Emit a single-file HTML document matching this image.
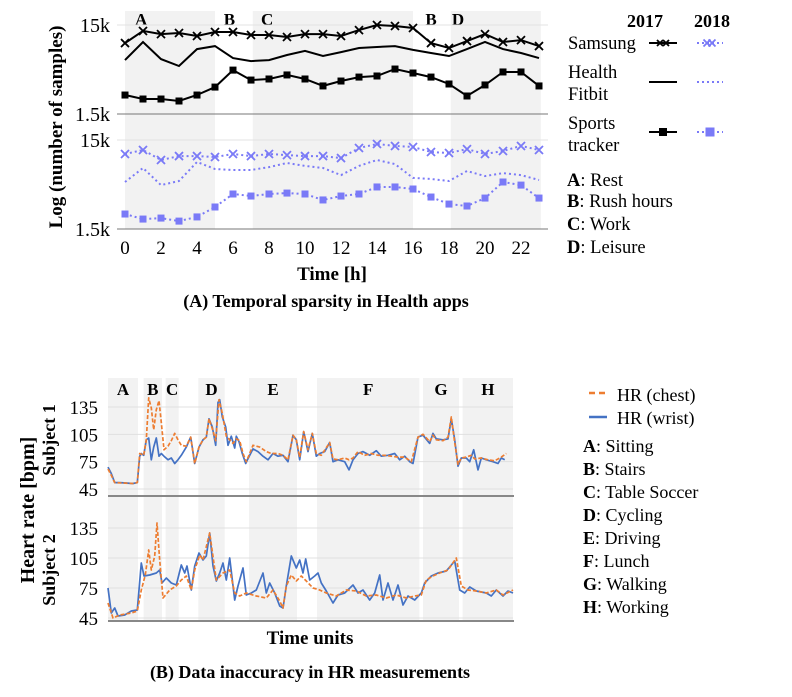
<!DOCTYPE html>
<html><head><meta charset="utf-8">
<style>
body{margin:0;background:#fff;}
svg{display:block;font-family:"Liberation Serif",serif;}
</style></head>
<body>
<svg id="chart" width="792" height="697" viewBox="0 0 792 697" xmlns="http://www.w3.org/2000/svg" font-family="Liberation Serif, serif">
<g id="topChart"></g>
<g id="botChart"></g>
</svg>
<script>
// ---------- Top chart data ----------
const hours = [0,1,2,3,4,5,6,7,8,9,10,11,12,13,14,15,16,17,18,19,20,21,22,23];
const xTickLabels = ["0","2","4","6","8","10","12","14","16","18","20","22"];
const yTickLabels = ["15k","1.5k"];
const samsung2017 = [9400,12860,11860,12200,11280,12510,12500,11580,11580,11000,11860,11860,11280,13150,15000,14600,13880,9400,8270,9900,11860,9650,10150,8700];
const fitbit2017 = [6050,9650,6210,5190,8050,8700,6370,5900,6050,6900,7680,6720,7450,8270,8480,8700,7870,7260,6720,8050,9650,8050,7260,6370];
const sports2017 = [2450,2210,2210,2100,2450,3010,4670,3610,3710,4120,3710,3100,3520,3900,4010,4800,4330,3900,3260,2390,3180,4450,4450,3100];
const samsung2018 = [10430,11580,8930,9900,9900,9650,10430,9900,10430,10150,9900,9900,9400,12200,13520,12860,12510,11000,10720,11860,10430,11280,12860,11580];
const fitbit2018 = [5060,7260,4670,5190,8480,7080,6900,6900,7450,8270,7680,7260,6050,7680,8930,8050,5620,5470,5190,6720,5900,6370,6050,5330];
const sports2018 = [2210,1940,1990,1840,2050,2650,3710,3520,3710,3800,3710,3180,3520,3710,4450,4450,4220,3430,2860,2720,3340,5060,4670,3340];
const topBands = [[0,5,"A"],[7.1,16,"C"],[18.1,23.1,"D"]];
const topBandLabels = [["A",0.9],["B",5.8],["C",7.9],["B",17],["D",18.5]];

// ---------- Bottom chart data: [time unit, bpm] ----------
const wrist1 = [[0,69],[10,62],[20,52],[35,52],[75,51],[88,52],[95,81],[100,84],[107,82],[115,99],[122,101],[130,77],[137,91],[145,101],[153,81],[160,84],[168,81],[180,77],[190,79],[200,73],[210,77],[220,82],[235,91],[248,102],[260,73],[273,91],[285,99],[295,102],[303,122],[313,113],[323,93],[330,140],[335,143],[343,124],[353,113],[360,93],[370,103],[380,90],[385,103],[393,97],[403,84],[413,73],[425,82],[435,89],[450,86],[465,81],[480,77],[495,84],[510,81],[525,82],[540,75],[555,104],[565,99],[575,77],[587,108],[600,86],[613,106],[625,81],[635,84],[650,86],[665,96],[675,75],[690,77],[710,75],[723,66],[735,77],[750,84],[765,86],[785,82],[805,87],[820,81],[840,82],[860,84],[875,77],[890,81],[905,75],[915,73],[930,102],[945,104],[965,95],[975,106],[985,100],[1005,99],[1020,100],[1030,122],[1040,99],[1050,70],[1060,79],[1075,79],[1085,75],[1097,88],[1110,66],[1120,79],[1135,77],[1155,75],[1170,73],[1180,79],[1190,77]];
const chest1 = [[0,67],[10,60],[20,52],[75,51],[88,52],[95,84],[107,82],[115,99],[122,145],[130,134],[137,110],[145,132],[153,142],[160,118],[168,88],[180,92],[190,98],[200,106],[210,99],[220,93],[235,92],[248,102],[260,73],[273,91],[285,99],[295,102],[303,122],[315,109],[323,98],[333,143],[343,128],[355,103],[365,99],[375,95],[385,100],[395,98],[405,84],[415,75],[435,93],[455,91],[475,86],[490,84],[510,84],[525,82],[540,77],[555,104],[565,99],[575,80],[587,108],[600,88],[613,106],[625,84],[640,82],[665,96],[675,78],[690,77],[710,79],[723,77],[735,79],[750,86],[770,82],[790,84],[810,82],[830,82],[850,81],[870,80],[890,80],[910,75],[930,102],[945,105],[965,97],[975,104],[985,99],[1005,98],[1020,102],[1030,124],[1040,96],[1050,72],[1060,79],[1075,80],[1090,82],[1100,78],[1120,79],[1140,77],[1160,76],[1180,80],[1195,84]];
const wrist2 = [[0,75],[10,50],[20,55],[30,47],[50,48],[70,52],[88,53],[100,100],[108,87],[125,88],[145,90],[155,93],[162,80],[175,85],[190,80],[205,78],[220,98],[230,90],[237,97],[250,73],[260,97],[273,110],[285,103],[295,107],[305,130],[315,97],[325,82],[335,90],[345,100],[355,83],[365,105],[380,63],[390,77],[405,95],[415,68],[430,70],[445,73],[465,90],[475,70],[485,80],[500,70],[515,57],[525,55],[535,77],[550,107],[565,95],[575,103],[585,90],[593,104],[605,83],[620,87],[630,90],[640,80],[655,72],[675,60],[690,68],[710,70],[735,78],[750,70],[765,73],[785,63],[800,70],[815,88],[825,63],[840,80],[855,63],[870,78],[885,58],[900,67],[920,63],[940,70],[950,80],[970,87],[990,90],[1015,92],[1040,102],[1055,73],[1070,70],[1085,76],[1105,72],[1135,70],[1150,67],[1165,73],[1185,67],[1200,72],[1215,70]];
const chest2 = [[0,60],[15,45],[35,48],[70,50],[88,52],[100,73],[112,88],[122,113],[130,93],[140,107],[147,140],[155,103],[165,65],[185,73],[205,77],[220,83],[235,87],[250,73],[260,93],[275,108],[285,103],[305,130],[325,83],[345,90],[365,93],[380,70],[395,67],[415,70],[445,67],[475,65],[495,73],[515,62],[525,55],[535,77],[550,88],[565,82],[580,87],[595,82],[615,75],[635,73],[655,70],[685,67],[715,73],[745,72],[775,67],[805,68],[835,65],[865,68],[895,65],[920,67],[940,68],[955,83],[975,87],[995,90],[1020,93],[1045,105],[1060,77],[1080,73],[1105,72],[1135,70],[1165,73],[1185,68],[1215,73]];
const hrTicks = [135,105,75,45];
const botBands = [[0,90,"A"],[107,162,"B"],[173,212,"C"],[271,350,"D"],[423,567,"E"],[627,934,"F"],[945,1053,"G"],[1064,1215,"H"]];

const NS="http://www.w3.org/2000/svg";
function mk(parent,tag,attrs,text){const e=document.createElementNS(NS,tag);for(const k in attrs)e.setAttribute(k,attrs[k]);if(text!==undefined)e.textContent=text;parent.appendChild(e);return e;}

// ---------- Top chart ----------
const topG=document.getElementById('topChart');
const tx=h=>125+18*h;
const ty1=v=>25+(Math.log10(15000)-Math.log10(v))*89;
const ty2=v=>140+(Math.log10(15000)-Math.log10(v))*89;
for(const b of topBands){
  const r=mk(topG,'rect',{x:tx(b[0]),y:11,width:tx(b[1])-tx(b[0]),height:218,fill:'#f2f2f2'});
  
  
}
for(const l of topBandLabels){
  const t=mk(topG,'text',{x:tx(l[1]),y:25,'font-size':17,'font-weight':'bold','text-anchor':'middle'},l[0]);
  
  
}
mk(topG,'line',{x1:117,x2:548,y1:25,y2:25,stroke:'#e3e3e3'});
mk(topG,'line',{x1:117,x2:548,y1:140,y2:140,stroke:'#e3e3e3'});
mk(topG,'line',{x1:117,x2:548,y1:114,y2:114,stroke:'#777'});
mk(topG,'line',{x1:117,x2:548,y1:229,y2:229,stroke:'#777'});
[[25,0],[114,1],[140,0],[229,1]].forEach(p=>{
  const t=mk(topG,'text',{x:110,y:p[0]+7,'font-size':20,'text-anchor':'end'},yTickLabels[p[1]]);
  
  
});
xTickLabels.forEach((s,i)=>{
  const t=mk(topG,'text',{x:tx(+s),y:254,'font-size':19,'text-anchor':'middle'},s);
  
  
});
function drawLine(g,xs,ys,fx,fy,style){
  return mk(g,'polyline',Object.assign({points:xs.map((x,i)=>fx(x).toFixed(1)+','+fy(ys[i]).toFixed(1)).join(' '),fill:'none'},style));
}
function xMark(g,x,y,c,s){mk(g,'path',{d:`M${x-s},${y-s}L${x+s},${y+s}M${x-s},${y+s}L${x+s},${y-s}`,stroke:c,'stroke-width':1.8});}
function sqMark(g,x,y,c,s){mk(g,'rect',{x:x-s,y:y-s,width:2*s,height:2*s,fill:c});}
const blk='#000', blu='#7a7af7';
const seriesDefs=[
 [samsung2017,ty1,{stroke:blk,'stroke-width':2},'x',blk,'samsung-2017'],
 [fitbit2017,ty1,{stroke:blk,'stroke-width':2},null,blk,'fitbit-2017'],
 [sports2017,ty1,{stroke:blk,'stroke-width':2},'s',blk,'sports-2017'],
 [samsung2018,ty2,{stroke:blu,'stroke-width':2,'stroke-dasharray':'2,3'},'x',blu,'samsung-2018'],
 [fitbit2018,ty2,{stroke:blu,'stroke-width':2,'stroke-dasharray':'2,3'},null,blu,'fitbit-2018'],
 [sports2018,ty2,{stroke:blu,'stroke-width':2,'stroke-dasharray':'2,3'},'s',blu,'sports-2018']];
for(const s of seriesDefs){
  const g=mk(topG,'g',{});
  
  
  drawLine(g,hours,s[0],tx,s[1],s[2]);
  hours.forEach((h,i)=>{const x=tx(h),y=s[1](s[0][i]);if(s[3]==='x')xMark(g,x,y,s[4],4);else if(s[3]==='s')sqMark(g,x,y,s[4],3.5);});
}
let e=mk(topG,'text',{x:0,y:0,'font-size':19,'font-weight':'bold','text-anchor':'middle',transform:'translate(62,127) rotate(-90)'},'Log (number of samples)');

e=mk(topG,'text',{x:332,y:280,'font-size':19,'font-weight':'bold','text-anchor':'middle'},'Time [h]');

e=mk(topG,'text',{x:326,y:307,'font-size':18,'font-weight':'bold','text-anchor':'middle'},'(A) Temporal sparsity in Health apps');

const lg=mk(topG,'g',{});


mk(lg,'text',{x:645,y:27,'font-size':18,'font-weight':'bold','text-anchor':'middle'},'2017');
mk(lg,'text',{x:712,y:27,'font-size':18,'font-weight':'bold','text-anchor':'middle'},'2018');
mk(lg,'text',{x:568,y:49,'font-size':18.5},'Samsung');
mk(lg,'text',{x:568,y:78,'font-size':18.5},'Health');
mk(lg,'text',{x:568,y:100,'font-size':18.5},'Fitbit');
mk(lg,'text',{x:568,y:129,'font-size':18.5},'Sports');
mk(lg,'text',{x:568,y:151,'font-size':18.5},'tracker');
[[43,'x'],[82,null],[132,'s']].forEach(r=>{
  mk(lg,'line',{x1:649,x2:677,y1:r[0],y2:r[0],stroke:blk,'stroke-width':2});
  mk(lg,'line',{x1:697,x2:723,y1:r[0],y2:r[0],stroke:blu,'stroke-width':2,'stroke-dasharray':'2,3'});
  if(r[1]==='x'){xMark(lg,660,r[0],blk,3);xMark(lg,666,r[0],blk,3);xMark(lg,707,r[0],blu,3.5);xMark(lg,712,r[0],blu,3.5);}
  if(r[1]==='s'){sqMark(lg,663,r[0],blk,4);sqMark(lg,710,r[0],blu,4.5);}
});
[["A",": Rest",186],["B",": Rush hours",207],["C",": Work",230],["D",": Leisure",253]].forEach(a=>{
  const t=mk(lg,'text',{x:567,y:a[2],'font-size':18.5});
  mk(t,'tspan',{'font-weight':'bold'},a[0]);mk(t,'tspan',{},a[1]);
});

// ---------- Bottom chart ----------
const botG=document.getElementById('botChart');
const bx=t=>108+t/3;
const by1=v=>407+(135-v)*(82/90);
const by2=v=>528+(135-v);
for(const b of botBands){
  const r=mk(botG,'rect',{x:bx(b[0]),y:378,width:bx(b[1])-bx(b[0]),height:243,fill:'#f2f2f2'});
  
  
  const t=mk(botG,'text',{x:(bx(b[0])+bx(b[1]))/2,y:395,'font-size':17,'font-weight':'bold','text-anchor':'middle'},b[2]);
  
  
}
hrTicks.forEach(v=>{
  mk(botG,'line',{x1:108,x2:513,y1:by1(v),y2:by1(v),stroke:'#e0e0e0'});
  mk(botG,'line',{x1:108,x2:513,y1:by2(v),y2:by2(v),stroke:'#e0e0e0'});
  let t=mk(botG,'text',{x:98,y:by1(v)+7,'font-size':19,'text-anchor':'end'},String(v));
  
  t=mk(botG,'text',{x:98,y:by2(v)+7,'font-size':19,'text-anchor':'end'},String(v));
  
});
mk(botG,'line',{x1:108,x2:514,y1:496,y2:496,stroke:'#888','stroke-width':2});
mk(botG,'line',{x1:108,x2:514,y1:621,y2:621,stroke:'#888','stroke-width':2});
const org='#ed7d31', wblu='#4472c4';
function hrLine(data,fy,color,dash,name){
  const p=mk(botG,'polyline',{points:data.map(d=>bx(d[0]).toFixed(1)+','+fy(d[1]).toFixed(1)).join(' '),fill:'none',stroke:color,'stroke-width':1.7,'stroke-dasharray':dash,'stroke-linejoin':'round'});
  
  
}
hrLine(wrist1,by1,wblu,'none','subject1-hr-wrist');
hrLine(chest1,by1,org,'4,2','subject1-hr-chest');
hrLine(wrist2,by2,wblu,'none','subject2-hr-wrist');
hrLine(chest2,by2,org,'4,2','subject2-hr-chest');
e=mk(botG,'text',{x:0,y:0,'font-size':20,'font-weight':'bold','text-anchor':'middle',transform:'translate(34,510) rotate(-90)'},'Heart rate [bpm]');

e=mk(botG,'text',{x:0,y:0,'font-size':18,'font-weight':'bold','text-anchor':'middle',transform:'translate(55,440) rotate(-90)'},'Subject 1');

e=mk(botG,'text',{x:0,y:0,'font-size':18,'font-weight':'bold','text-anchor':'middle',transform:'translate(55,570) rotate(-90)'},'Subject 2');

e=mk(botG,'text',{x:310,y:644,'font-size':19,'font-weight':'bold','text-anchor':'middle'},'Time units');

e=mk(botG,'text',{x:310,y:678,'font-size':18,'font-weight':'bold','text-anchor':'middle'},'(B) Data inaccuracy in HR measurements');

const lg2=mk(botG,'g',{});


mk(lg2,'line',{x1:589,x2:608,y1:393,y2:393,stroke:org,'stroke-width':2.5,'stroke-dasharray':'6,4'});
mk(lg2,'text',{x:617,y:401,'font-size':18},'HR (chest)');
mk(lg2,'line',{x1:589,x2:607,y1:417,y2:417,stroke:wblu,'stroke-width':2.5});
mk(lg2,'text',{x:617,y:424,'font-size':18},'HR (wrist)');
[["A",": Sitting"],["B",": Stairs"],["C",": Table Soccer"],["D",": Cycling"],["E",": Driving"],["F",": Lunch"],["G",": Walking"],["H",": Working"]].forEach((a,i)=>{
  const t=mk(lg2,'text',{x:583,y:452+i*23,'font-size':18});
  mk(t,'tspan',{'font-weight':'bold'},a[0]);mk(t,'tspan',{},a[1]);
});
</script>
</body></html>
